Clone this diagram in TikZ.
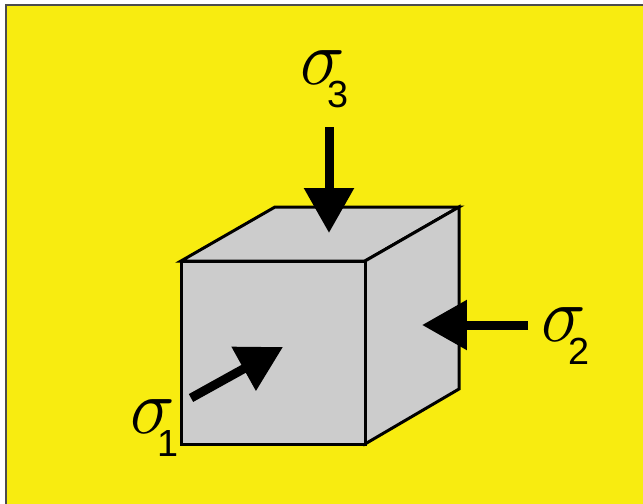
\documentclass[tikz,border=0pt]{standalone}
\usepackage{fontspec}
\setmainfont{Liberation Sans}
\usetikzlibrary{arrows.meta}
\definecolor{bgyellow}{HTML}{F8EC10}
\definecolor{cubegrey}{HTML}{CCCCCC}
\newcommand{\stresslabel}[1]{\scalebox{1.72}[1.8]{\fontsize{42}{42}\selectfont$\sigma$}\kern-0.34cm\raisebox{-0.48cm}{\fontsize{21.5}{22}\selectfont #1}}

\begin{document}
\begin{tikzpicture}[x=0.02cm, y=-0.02cm, every node/.style={inner sep=0pt, anchor=base west}, >={Triangle[length=0.9cm, width=0.96cm]}]
	\tikzset{cubeface/.style={draw=black, fill=cubegrey, line width=0.06cm, line join=miter}}
	\tikzset{load/.style={->, line width=0.18cm, black}}
	\useasboundingbox (0,0) rectangle (643,504);
	% background
	\fill[white] (0,0) rectangle (643,504);
	\fill[bgyellow] (6,5) rectangle (643,504);
	\draw[black!70, line width=0.03cm] (6,504) -- (6,5) -- (643,5);
	% cube
	\draw[cubeface] (181,261) -- (275,207) -- (459,207) -- (365,261) -- cycle;
	\draw[cubeface] (365,261) -- (459,207) -- (459,389) -- (365,444) -- cycle;
	\draw[cubeface] (181,261) rectangle (365,444);
	% loads
	\coordinate (topstart) at (329,127);
	\coordinate (toptip) at (329,233);
	\coordinate (sidestart) at (528,325);
	\coordinate (sidetip) at (422,325);
	\coordinate (frontstart) at (191,398);
	\coordinate (fronttip) at (283,347);
	\draw[load] (topstart) -- (toptip);
	\draw[load] (sidestart) -- (sidetip);
	\draw[load] (frontstart) -- (fronttip);
	% labels
	\node (sigmathree) at (300,84) {\stresslabel{3}};
	\node (sigmatwo) at (541,341) {\stresslabel{2}};
	\node (sigmaone) at (130,433) {\stresslabel{1}};
\end{tikzpicture}
\end{document}
